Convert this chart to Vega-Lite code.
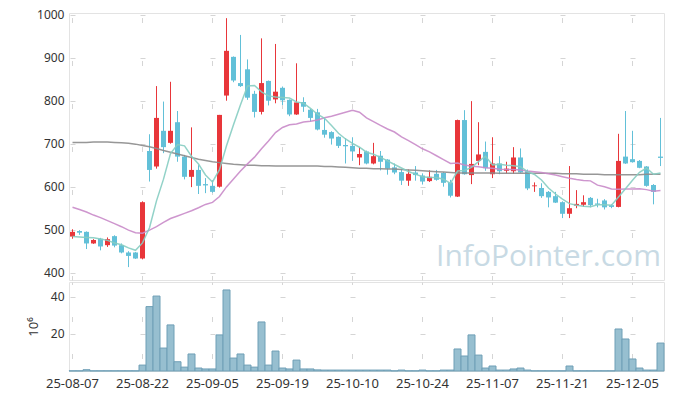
{
  "$schema": "https://vega.github.io/schema/vega-lite/v6.json",
  "background": "white",
  "padding": {"left": 26, "top": 8, "right": 5, "bottom": 5},
  "spacing": 0,
  "config": {
    "view": {"stroke": "#e3e3e3", "strokeWidth": 1},
    "axis": {"labelFont": "Noto Sans", "labelColor": "#333", "labelFontSize": 12, "ticks": false, "domain": false, "gridColor": "#d5d5d5", "gridWidth": 1},
    "concat": {"spacing": 0}
  },
  "datasets": {
    "ohlc": [
      {"date": "25-08-07", "open": 484, "high": 501, "low": 479, "close": 495, "vol": 0.1, "ma5": 484, "ma20": 552, "ma120": 703},
      {"date": "25-08-08", "open": 497, "high": 499, "low": 488, "close": 493, "vol": 0.1, "ma5": 483, "ma20": 547, "ma120": 703},
      {"date": "25-08-11", "open": 495, "high": 496, "low": 455, "close": 468, "vol": 0.7, "ma5": 482, "ma20": 541, "ma120": 703},
      {"date": "25-08-12", "open": 468, "high": 478, "low": 467, "close": 476, "vol": 0.1, "ma5": 481, "ma20": 534, "ma120": 704},
      {"date": "25-08-13", "open": 479, "high": 481, "low": 452, "close": 461, "vol": 0.1, "ma5": 478.6, "ma20": 528, "ma120": 704},
      {"date": "25-08-14", "open": 464, "high": 482, "low": 460, "close": 478, "vol": 0.1, "ma5": 475.2, "ma20": 521, "ma120": 704},
      {"date": "25-08-18", "open": 485, "high": 487, "low": 459, "close": 463, "vol": 0.1, "ma5": 469.2, "ma20": 514, "ma120": 703},
      {"date": "25-08-19", "open": 464, "high": 468, "low": 445, "close": 447, "vol": 0.1, "ma5": 465, "ma20": 507, "ma120": 702},
      {"date": "25-08-20", "open": 447, "high": 450, "low": 413, "close": 439, "vol": 0.1, "ma5": 457.6, "ma20": 499, "ma120": 701},
      {"date": "25-08-21", "open": 447, "high": 448, "low": 432, "close": 433, "vol": 0.1, "ma5": 452, "ma20": 493, "ma120": 699},
      {"date": "25-08-22", "open": 433, "high": 566, "low": 431, "close": 564, "vol": 3.2, "ma5": 469.2, "ma20": 492, "ma120": 696},
      {"date": "25-08-25", "open": 683, "high": 722, "low": 612, "close": 639, "vol": 34.8, "ma5": 504.4, "ma20": 499, "ma120": 693},
      {"date": "25-08-26", "open": 647, "high": 834, "low": 642, "close": 760, "vol": 40.5, "ma5": 567, "ma20": 507, "ma120": 689},
      {"date": "25-08-27", "open": 730, "high": 798, "low": 678, "close": 692, "vol": 12.4, "ma5": 617.6, "ma20": 517, "ma120": 684},
      {"date": "25-08-28", "open": 702, "high": 844, "low": 700, "close": 730, "vol": 24.9, "ma5": 677, "ma20": 526, "ma120": 680},
      {"date": "25-08-29", "open": 750, "high": 776, "low": 658, "close": 670, "vol": 5.0, "ma5": 698.2, "ma20": 532, "ma120": 676},
      {"date": "25-09-01", "open": 670, "high": 674, "low": 617, "close": 623, "vol": 2.1, "ma5": 695, "ma20": 538, "ma120": 672},
      {"date": "25-09-02", "open": 623, "high": 738, "low": 599, "close": 639, "vol": 9.2, "ma5": 670.8, "ma20": 544, "ma120": 668},
      {"date": "25-09-03", "open": 639, "high": 650, "low": 583, "close": 602, "vol": 1.6, "ma5": 652.8, "ma20": 551, "ma120": 664},
      {"date": "25-09-04", "open": 606, "high": 620, "low": 585, "close": 603, "vol": 1.1, "ma5": 627.4, "ma20": 558.75, "ma120": 661},
      {"date": "25-09-05", "open": 602, "high": 615, "low": 586, "close": 588, "vol": 1.1, "ma5": 611, "ma20": 563.4, "ma120": 658},
      {"date": "25-09-08", "open": 600, "high": 767, "low": 598, "close": 767, "vol": 19.5, "ma5": 639.8, "ma20": 577.1, "ma120": 656},
      {"date": "25-09-09", "open": 812, "high": 992, "low": 800, "close": 916, "vol": 43.8, "ma5": 695.2, "ma20": 599.5, "ma120": 654},
      {"date": "25-09-10", "open": 902, "high": 903, "low": 843, "close": 847, "vol": 7.0, "ma5": 744.2, "ma20": 618.05, "ma120": 652},
      {"date": "25-09-11", "open": 841, "high": 953, "low": 832, "close": 834, "vol": 9.2, "ma5": 790.4, "ma20": 636.7, "ma120": 651},
      {"date": "25-09-12", "open": 873, "high": 896, "low": 802, "close": 807, "vol": 3.2, "ma5": 834.2, "ma20": 653.15, "ma120": 650},
      {"date": "25-09-15", "open": 816, "high": 823, "low": 761, "close": 774, "vol": 2.1, "ma5": 835.6, "ma20": 668.7, "ma120": 650},
      {"date": "25-09-16", "open": 774, "high": 945, "low": 768, "close": 841, "vol": 26.5, "ma5": 820.6, "ma20": 688.4, "ma120": 649},
      {"date": "25-09-17", "open": 846, "high": 847, "low": 789, "close": 800, "vol": 3.2, "ma5": 811.2, "ma20": 706.45, "ma120": 649},
      {"date": "25-09-18", "open": 803, "high": 932, "low": 794, "close": 821, "vol": 10.8, "ma5": 808.6, "ma20": 725.85, "ma120": 648},
      {"date": "25-09-19", "open": 830, "high": 833, "low": 790, "close": 801, "vol": 1.6, "ma5": 807.4, "ma20": 737.7, "ma120": 648},
      {"date": "25-09-22", "open": 802, "high": 803, "low": 764, "close": 768, "vol": 1.1, "ma5": 806.2, "ma20": 744.15, "ma120": 648},
      {"date": "25-09-23", "open": 768, "high": 887, "low": 767, "close": 796, "vol": 5.9, "ma5": 797.2, "ma20": 745.95, "ma120": 648},
      {"date": "25-09-24", "open": 797, "high": 808, "low": 774, "close": 786, "vol": 1.1, "ma5": 794.4, "ma20": 750.65, "ma120": 648},
      {"date": "25-09-25", "open": 779, "high": 781, "low": 751, "close": 760, "vol": 1.1, "ma5": 782.2, "ma20": 752.15, "ma120": 648},
      {"date": "25-09-26", "open": 773, "high": 781, "low": 731, "close": 733, "vol": 0.6, "ma5": 768.6, "ma20": 755.3, "ma120": 648},
      {"date": "25-09-29", "open": 732, "high": 760, "low": 714, "close": 721, "vol": 0.5, "ma5": 759.2, "ma20": 760.2, "ma120": 647},
      {"date": "25-09-30", "open": 727, "high": 729, "low": 698, "close": 712, "vol": 0.5, "ma5": 742.4, "ma20": 763.85, "ma120": 647},
      {"date": "25-10-01", "open": 716, "high": 717, "low": 690, "close": 695, "vol": 0.5, "ma5": 724.2, "ma20": 768.5, "ma120": 646},
      {"date": "25-10-02", "open": 697, "high": 713, "low": 654, "close": 694, "vol": 0.5, "ma5": 711, "ma20": 773.05, "ma120": 645},
      {"date": "25-10-10", "open": 695, "high": 715, "low": 660, "close": 682, "vol": 0.5, "ma5": 700.8, "ma20": 777.75, "ma120": 644},
      {"date": "25-10-13", "open": 668, "high": 692, "low": 650, "close": 676, "vol": 0.5, "ma5": 691.8, "ma20": 773.2, "ma120": 643},
      {"date": "25-10-14", "open": 682, "high": 684, "low": 652, "close": 654, "vol": 0.5, "ma5": 680.2, "ma20": 760.1, "ma120": 643},
      {"date": "25-10-15", "open": 654, "high": 702, "low": 652, "close": 671, "vol": 0.5, "ma5": 675.4, "ma20": 751.3, "ma120": 642},
      {"date": "25-10-16", "open": 672, "high": 683, "low": 638, "close": 658, "vol": 0.5, "ma5": 668.2, "ma20": 742.5, "ma120": 642},
      {"date": "25-10-17", "open": 663, "high": 664, "low": 628, "close": 642, "vol": 0.5, "ma5": 660.2, "ma20": 734.25, "ma120": 641},
      {"date": "25-10-20", "open": 645, "high": 654, "low": 629, "close": 633, "vol": 0.1, "ma5": 651.6, "ma20": 727.2, "ma120": 641},
      {"date": "25-10-21", "open": 634, "high": 640, "low": 604, "close": 614, "vol": 0.5, "ma5": 643.6, "ma20": 715.85, "ma120": 640},
      {"date": "25-10-22", "open": 614, "high": 640, "low": 602, "close": 630, "vol": 0.1, "ma5": 635.4, "ma20": 707.35, "ma120": 639},
      {"date": "25-10-23", "open": 633, "high": 648, "low": 614, "close": 627, "vol": 0.1, "ma5": 629.2, "ma20": 697.65, "ma120": 638},
      {"date": "25-10-24", "open": 626, "high": 631, "low": 605, "close": 612, "vol": 0.5, "ma5": 623.2, "ma20": 688.2, "ma120": 637},
      {"date": "25-10-27", "open": 613, "high": 638, "low": 611, "close": 623, "vol": 0.1, "ma5": 621.2, "ma20": 680.95, "ma120": 636},
      {"date": "25-10-28", "open": 630, "high": 639, "low": 614, "close": 616, "vol": 0.1, "ma5": 621.6, "ma20": 671.95, "ma120": 635},
      {"date": "25-10-29", "open": 632, "high": 634, "low": 600, "close": 609, "vol": 0.5, "ma5": 617.4, "ma20": 663.1, "ma120": 634},
      {"date": "25-10-30", "open": 610, "high": 616, "low": 575, "close": 579, "vol": 0.5, "ma5": 607.8, "ma20": 654.05, "ma120": 633},
      {"date": "25-10-31", "open": 577, "high": 756, "low": 576, "close": 755, "vol": 11.9, "ma5": 636.4, "ma20": 655.15, "ma120": 632},
      {"date": "25-11-03", "open": 755, "high": 778, "low": 628, "close": 629, "vol": 8.1, "ma5": 637.6, "ma20": 650.55, "ma120": 632},
      {"date": "25-11-04", "open": 627, "high": 799, "low": 606, "close": 653, "vol": 19.5, "ma5": 645, "ma20": 647.6, "ma120": 632},
      {"date": "25-11-05", "open": 660, "high": 750, "low": 650, "close": 675, "vol": 8.6, "ma5": 658.2, "ma20": 646.6, "ma120": 632},
      {"date": "25-11-06", "open": 681, "high": 705, "low": 637, "close": 643, "vol": 1.6, "ma5": 671, "ma20": 644.05, "ma120": 632},
      {"date": "25-11-07", "open": 629, "high": 715, "low": 620, "close": 654, "vol": 2.7, "ma5": 650.8, "ma20": 642.65, "ma120": 632},
      {"date": "25-11-10", "open": 654, "high": 671, "low": 629, "close": 636, "vol": 0.5, "ma5": 652.2, "ma20": 640.65, "ma120": 631},
      {"date": "25-11-11", "open": 637, "high": 658, "low": 631, "close": 642, "vol": 0.5, "ma5": 650, "ma20": 640.05, "ma120": 631},
      {"date": "25-11-12", "open": 636, "high": 692, "low": 630, "close": 668, "vol": 1.1, "ma5": 648.6, "ma20": 639.9, "ma120": 631},
      {"date": "25-11-13", "open": 668, "high": 689, "low": 632, "close": 633, "vol": 1.6, "ma5": 646.6, "ma20": 638.65, "ma120": 631},
      {"date": "25-11-14", "open": 636, "high": 640, "low": 592, "close": 596, "vol": 0.5, "ma5": 635, "ma20": 636.35, "ma120": 631},
      {"date": "25-11-17", "open": 601, "high": 610, "low": 588, "close": 603, "vol": 0.1, "ma5": 628.4, "ma20": 634.85, "ma120": 631},
      {"date": "25-11-18", "open": 597, "high": 608, "low": 574, "close": 578, "vol": 0.1, "ma5": 615.6, "ma20": 633.05, "ma120": 631},
      {"date": "25-11-19", "open": 588, "high": 590, "low": 552, "close": 575, "vol": 0.1, "ma5": 597, "ma20": 630.3, "ma120": 631},
      {"date": "25-11-20", "open": 578, "high": 588, "low": 562, "close": 563, "vol": 0.1, "ma5": 583, "ma20": 627.1, "ma120": 631},
      {"date": "25-11-21", "open": 564, "high": 566, "low": 527, "close": 537, "vol": 0.1, "ma5": 571.2, "ma20": 623.35, "ma120": 630},
      {"date": "25-11-24", "open": 537, "high": 648, "low": 527, "close": 550, "vol": 2.7, "ma5": 560.6, "ma20": 619.7, "ma120": 630},
      {"date": "25-11-25", "open": 556, "high": 592, "low": 550, "close": 560, "vol": 0.1, "ma5": 557, "ma20": 616.9, "ma120": 630},
      {"date": "25-11-26", "open": 558, "high": 580, "low": 553, "close": 564, "vol": 0.1, "ma5": 554.8, "ma20": 614.65, "ma120": 629},
      {"date": "25-11-27", "open": 574, "high": 576, "low": 552, "close": 557, "vol": 0.1, "ma5": 553.6, "ma20": 613.55, "ma120": 629},
      {"date": "25-11-28", "open": 561, "high": 572, "low": 552, "close": 558, "vol": 0.1, "ma5": 557.8, "ma20": 603.7, "ma120": 629},
      {"date": "25-12-01", "open": 568, "high": 571, "low": 547, "close": 552, "vol": 0.1, "ma5": 558.2, "ma20": 599.85, "ma120": 628},
      {"date": "25-12-02", "open": 557, "high": 559, "low": 550, "close": 553, "vol": 0.1, "ma5": 556.8, "ma20": 594.85, "ma120": 628},
      {"date": "25-12-03", "open": 553, "high": 723, "low": 552, "close": 660, "vol": 22.7, "ma5": 576, "ma20": 594.1, "ma120": 628},
      {"date": "25-12-04", "open": 670, "high": 776, "low": 653, "close": 654, "vol": 17.3, "ma5": 595.4, "ma20": 594.65, "ma120": 628},
      {"date": "25-12-05", "open": 664, "high": 730, "low": 656, "close": 657, "vol": 6.5, "ma5": 615.2, "ma20": 594.8, "ma120": 628},
      {"date": "25-12-08", "open": 660, "high": 662, "low": 643, "close": 644, "vol": 1.6, "ma5": 633.6, "ma20": 595.2, "ma120": 628},
      {"date": "25-12-09", "open": 647, "high": 648, "low": 600, "close": 602, "vol": 0.5, "ma5": 643.4, "ma20": 593.2, "ma120": 629},
      {"date": "25-12-10", "open": 604, "high": 606, "low": 559, "close": 588, "vol": 0.5, "ma5": 629, "ma20": 589.2, "ma120": 629},
      {"date": "25-12-11", "open": 670, "high": 760, "low": 648, "close": 667, "vol": 15.1, "ma5": 631.6, "ma20": 590.9, "ma120": 629}
    ]
  },
  "vconcat": [
    {
      "width": 595,
      "height": 267,
      "data": {"name": "ohlc"},
      "encoding": {
        "x": {
          "field": "date", "type": "ordinal", "sort": null,
          "scale": {"type": "band", "paddingInner": 0, "paddingOuter": 0},
          "axis": {"orient": "bottom", "labels": false, "title": null, "grid": true,
                   "values": ["25-08-07","25-08-22","25-09-05","25-09-19","25-10-10","25-10-24","25-11-07","25-11-21","25-12-05"],
                   "gridDash": [5, 38], "gridDashOffset": 38.5}
        }
      },
      "layer": [
        {
          "mark": {"type": "rule", "strokeWidth": 1},
          "encoding": {
            "y": {"field": "low", "type": "quantitative",
                  "scale": {"domain": [383, 1004], "nice": false, "zero": false},
                  "axis": {"title": null, "format": "d", "values": [400,500,600,700,800,900,1000], "grid": true, "gridDash": [5, 65], "gridDashOffset": 69, "labelPadding": 5}},
            "y2": {"field": "high"},
            "color": {"condition": {"test": "datum.close >= datum.open", "value": "#e8363a"}, "value": "#62c0d8"}
          }
        },
        {
          "mark": {"type": "bar", "size": 5},
          "encoding": {
            "y": {"field": "open", "type": "quantitative"},
            "y2": {"field": "close"},
            "color": {"condition": {"test": "datum.close >= datum.open", "value": "#e8363a"}, "value": "#62c0d8"}
          }
        },
        {
          "mark": {"type": "line", "color": "#8c8c8c", "strokeWidth": 1.5, "opacity": 0.9},
          "encoding": {"y": {"field": "ma120", "type": "quantitative"}}
        },
        {
          "mark": {"type": "line", "color": "#c98bc9", "strokeWidth": 1.5, "opacity": 0.9},
          "encoding": {"y": {"field": "ma20", "type": "quantitative"}}
        },
        {
          "mark": {"type": "line", "color": "#86cdc2", "strokeWidth": 1.5, "opacity": 0.9},
          "encoding": {"y": {"field": "ma5", "type": "quantitative"}}
        },
        {
          "data": {"values": [{"wm": "InfoPointer.com"}]},
          "mark": {"type": "text", "font": "Open Sans", "fontSize": 30, "color": "#c8dae4", "align": "center", "baseline": "middle"},
          "encoding": {
            "x": {"datum": "25-11-19", "type": "ordinal"},
            "y": {"datum": 437, "type": "quantitative"},
            "text": {"field": "wm"}
          }
        }
      ]
    },
    {
      "width": 595,
      "height": 89,
      "data": {"name": "ohlc"},
      "mark": {"type": "bar", "color": "#97bfd0", "stroke": "#6f9fb6", "strokeWidth": 1},
      "encoding": {
        "x": {
          "field": "date", "type": "ordinal", "sort": null,
          "scale": {"type": "band", "paddingInner": 0, "paddingOuter": 0},
          "axis": {"title": null, "labelAngle": 0, "labelFontSize": 13, "labelPadding": 6, "grid": true,
                   "values": ["25-08-07","25-08-22","25-09-05","25-09-19","25-10-10","25-10-24","25-11-07","25-11-21","25-12-05"],
                   "gridDash": [5, 32], "gridDashOffset": 2.5}
        },
        "y": {
          "field": "vol", "type": "quantitative",
          "scale": {"domain": [0, 48.1], "nice": false},
          "axis": {"title": "10⁶", "titleFont": "Noto Sans", "titleFontSize": 13, "titleFontWeight": "normal", "titleColor": "#333", "titlePadding": 10,
                   "values": [20, 40], "grid": true, "gridDash": [5, 65], "gridDashOffset": 69, "labelPadding": 5}
        }
      }
    }
  ]
}
